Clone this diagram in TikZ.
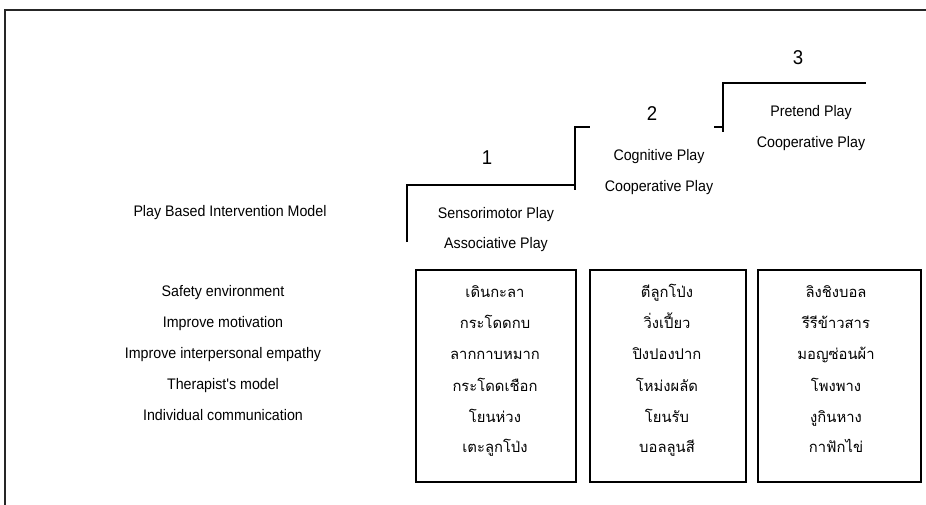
\documentclass[tikz,border=0pt]{standalone}
\usepackage{fontspec}
\setmainfont{Liberation Sans}
\newfontfamily\labfont[FakeStretch=0.93]{Liberation Sans}
\newfontfamily\thaifont[Script=Thai]{Loma}
\begin{document}
\begin{tikzpicture}[x=1pt,y=-1pt,
  lab/.style={inner sep=0pt,anchor=base,font=\labfont\fontsize{15.3}{17}\selectfont},
  num/.style={inner sep=0pt,anchor=center,font=\labfont\fontsize{20}{22}\selectfont},
  thai/.style={inner sep=0pt,anchor=base,font=\thaifont\fontsize{14.8}{17}\selectfont},
  ln/.style={line width=1.2pt,black},
  box/.style={draw,line width=1.2pt,inner sep=0pt}]
\useasboundingbox (0,0) rectangle (926,505);
% frame
\coordinate (fb) at (5,505);
\coordinate (fc) at (5,10);
\coordinate (fr) at (926,10);
\draw[line width=1.5pt,black!85] (fb) -- (fc) -- (fr);
% steps
\coordinate (s1a) at (407,242); \coordinate (s1b) at (407,185); \coordinate (s1c) at (575,185);
\coordinate (s2a) at (575,190); \coordinate (s2b) at (575,127); \coordinate (s2c) at (590,127);
\coordinate (s2d) at (714,127); \coordinate (s3a) at (723,132); \coordinate (s3b) at (723,83);
\coordinate (s3c) at (866,83);
\draw[ln] (s1a) -- (s1b) -- (s1c);
\draw[ln] (s2a) -- (s2b) -- (s2c);
\draw[ln] (s2d) -- (s2d -| s3a);
\draw[ln] (s3a) -- (s3b) -- (s3c);
% numbers
\node[num] (n1) at (487,158) {1};
\node[num] (n2) at (652,114) {2};
\node[num] (n3) at (798,58) {3};
% stage texts
\node[lab] (t1a) at (496,218.5) {Sensorimotor Play};
\node[lab] (t1b) at (496,248.5) {Associative Play};
\node[lab] (t2a) at (659,160.5) {Cognitive Play};
\node[lab] (t2b) at (659,191.5) {Cooperative Play};
\node[lab] (t3a) at (811,116.5) {Pretend Play};
\node[lab] (t3b) at (811,147.5) {Cooperative Play};
% left labels
\node[lab] (model) at (230,216.5) {Play Based Intervention Model};
\node[lab] (l1) at (223,296.5) {Safety environment};
\node[lab] (l2) at (223,327.5) {Improve motivation};
\node[lab] (l3) at (223,358.5) {Improve interpersonal empathy};
\node[lab] (l4) at (223,389.5) {Therapist's model};
\node[lab] (l5) at (223,420.5) {Individual communication};
% boxes
\draw[box] (416,270) rectangle (576,482);
\draw[box] (590,270) rectangle (746,482);
\draw[box] (758,270) rectangle (921,482);
% thai texts
\node[thai] (a1) at (495,297.5) {เดินกะลา};
\node[thai] (a2) at (495,328.5) {กระโดดกบ};
\node[thai] (a3) at (495,359.5) {ลากกาบหมาก};
\node[thai] (a4) at (495,391) {กระโดดเชือก};
\node[thai] (a5) at (495,422) {โยนห่วง};
\node[thai] (a6) at (495,452.5) {เตะลูกโป่ง};
\node[thai] (b1) at (667,297.5) {ตีลูกโป่ง};
\node[thai] (b2) at (667,328.5) {วิ่งเปี้ยว};
\node[thai] (b3) at (667,359.5) {ปิงปองปาก};
\node[thai] (b4) at (667,391) {โหม่งผลัด};
\node[thai] (b5) at (667,422) {โยนรับ};
\node[thai] (b6) at (667,452.5) {บอลลูนสี};
\node[thai] (c1) at (836,297.5) {ลิงชิงบอล};
\node[thai] (c2) at (836,328.5) {รีรีข้าวสาร};
\node[thai] (c3) at (836,359.5) {มอญซ่อนผ้า};
\node[thai] (c4) at (836,391) {โพงพาง};
\node[thai] (c5) at (836,422) {งูกินหาง};
\node[thai] (c6) at (836,452.5) {กาฟักไข่};
\end{tikzpicture}
\end{document}
